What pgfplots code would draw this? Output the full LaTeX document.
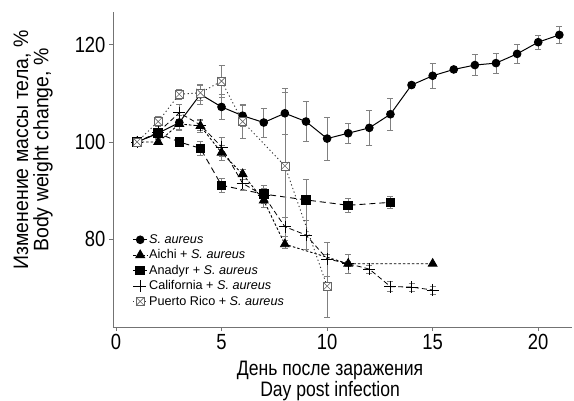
\documentclass[border=0pt]{standalone}
\usepackage{fontspec}
\setmainfont{Liberation Sans}
\newfontfamily\tickfont{Liberation Sans}[FakeStretch=0.84]
\newfontfamily\xlabfont{Liberation Sans}[FakeStretch=0.84]
\newfontfamily\ylabfont{Liberation Sans}[FakeStretch=0.93]
\usepackage{pgfplots}
\pgfplotsset{compat=1.18}
\usepackage{pgfplotstable}

% square with a cross inside, for Puerto Rico
\pgfdeclareplotmark{boxx}{%
  \pgfpathrectangle{\pgfpoint{-\pgfplotmarksize}{-\pgfplotmarksize}}{\pgfpoint{2\pgfplotmarksize}{2\pgfplotmarksize}}%
  \pgfusepath{fill,stroke}%
  \pgfpathmoveto{\pgfpoint{-\pgfplotmarksize}{-\pgfplotmarksize}}\pgfpathlineto{\pgfpoint{\pgfplotmarksize}{\pgfplotmarksize}}%
  \pgfpathmoveto{\pgfpoint{-\pgfplotmarksize}{\pgfplotmarksize}}\pgfpathlineto{\pgfpoint{\pgfplotmarksize}{-\pgfplotmarksize}}%
  \pgfusepathqstroke}

\pgfplotstableread{
x y e
1 100 0.5
2 101.8 1.0
3 104.0 1.5
4 109.8 2.0
5 107.2 2.5
6 105.4 2.2
7 104.0 3.0
8 105.9 4.3
9 104.2 4.1
10 100.7 4.4
11 101.8 2.1
12 102.9 3.6
13 105.7 3.2
14 111.7 0.5
15 113.6 2.6
16 114.9 0.5
17 115.8 2.2
18 116.2 2.0
19 118.1 1.9
20 120.5 1.4
21 122.0 1.7
}\saureus

\pgfplotstableread{
x y e
1 100 0
2 100 0.5
3 103.7 1.0
4 103.3 1.3
5 97.8 1.5
6 93.4 1.0
7 88.0 1.5
8 79.0 0.8
11 75.0 2.0
15 75.0 0
}\aichi

\pgfplotstableread{
x y e
1 100 0.5
2 101.8 1.0
3 100.0 0.5
4 98.7 1.5
5 91.1 1.5
7 89.3 1.8
9 88.1 4.2
11 87.0 1.4
13 87.6 1.3
}\anadyr

\pgfplotstableread{
x y e
1 100 0.5
2 102.0 0.5
3 106.0 1.8
4 103.5 1.0
5 99.0 2.0
6 91.5 1.5
7 89.0 1.5
8 82.6 2.0
9 80.9 3.0
10 76.0 3.5
11 75.0 0.5
12 73.9 0.8
13 70.3 1.0
14 70.2 0.8
15 69.6 0.8
}\california

\pgfplotstableread{
x y e
1 100 0
2 104.2 1.0
3 109.8 1.0
4 110.1 1.5
5 112.5 3.3
6 104.2 3.5
8 95.1 16
10 70.4 6.5
}\puertorico

\begin{document}
\begin{tikzpicture}
\useasboundingbox (-113bp,-74bp) rectangle (461bp,327bp);
\begin{axis}[
  scale only axis,
  width=459bp, height=315bp,
  xmin=-0.14, xmax=21.6,
  ymin=62, ymax=126.7,
  axis x line=bottom, axis y line=left,
  axis line style={-, draw=black!55, line width=0.8pt},
  xtick={0,5,10,15,20},
  ytick={80,100,120},
  tick align=outside,
  major tick length=4bp,
  tick style={draw=black!55, line width=0.6pt},
  /pgf/number format/assume math mode=true,
  tick label style={font=\tickfont\fontsize{22}{23}\selectfont},
  xlabel={День после заражения\\Day post infection},
  ylabel={Изменение массы тела, \%\\Body weight change, \%},
  xlabel style={at={(axis description cs:0.473,-0.172)}, anchor=center,
    align=center, font=\xlabfont\fontsize{21}{21.5}\selectfont},
  ylabel style={at={(axis description cs:-0.174,0.562)}, anchor=center,
    align=center, font=\ylabfont\fontsize{21}{20.5}\selectfont},
  error bars/y dir=both,
  error bars/y explicit,
  error bars/error bar style={draw=black!50, line width=0.6pt, solid},
  error bars/error mark options={rotate=90, mark size=3bp, draw=black!50, line width=0.6pt, solid},
  legend style={draw=none, fill=none, at={(0.036,0.305)}, anchor=north west,
    font=\fontsize{12.7}{15}\selectfont, row sep=1.8bp,
    nodes={inner sep=1.5bp}},
  legend cell align=left,
  legend image code/.code={\draw[mark repeat=2, mark phase=2, #1]
    plot coordinates {(0bp,0bp) (7bp,0bp) (14bp,0bp)};},
]
\addplot[black, line width=1pt, mark=*, mark size=3.8bp, mark options={solid}]
  table[x=x, y=y, y error=e] {\saureus};
\addlegendentry{\textit{S. aureus}}

\addplot[black, line width=0.9pt, dash pattern=on 2.5bp off 2bp, mark=triangle*, mark size=5bp, mark options={solid}]
  table[x=x, y=y, y error=e] {\aichi};
\addlegendentry{Aichi + \textit{S. aureus}}

\addplot[black, line width=0.9pt, dash pattern=on 6bp off 4bp, mark=square*, mark size=4.3bp, mark options={solid}]
  table[x=x, y=y, y error=e] {\anadyr};
\addlegendentry{Anadyr + \textit{S. aureus}}

\addplot[black, line width=0.8pt, dash pattern=on 5bp off 3bp, mark=+, mark size=6bp, mark options={solid, line width=0.6pt}]
  table[x=x, y=y, y error=e] {\california};
\addlegendentry{California + \textit{S. aureus}}

\addplot[black!80, line width=0.9pt, dash pattern=on 1.2bp off 2.6bp, mark=boxx, mark size=4bp, mark options={solid, draw=black!60, fill=white, line width=0.6pt}]
  table[x=x, y=y, y error=e] {\puertorico};
\addlegendentry{Puerto Rico + \textit{S. aureus}}
\end{axis}
\end{tikzpicture}
\end{document}
